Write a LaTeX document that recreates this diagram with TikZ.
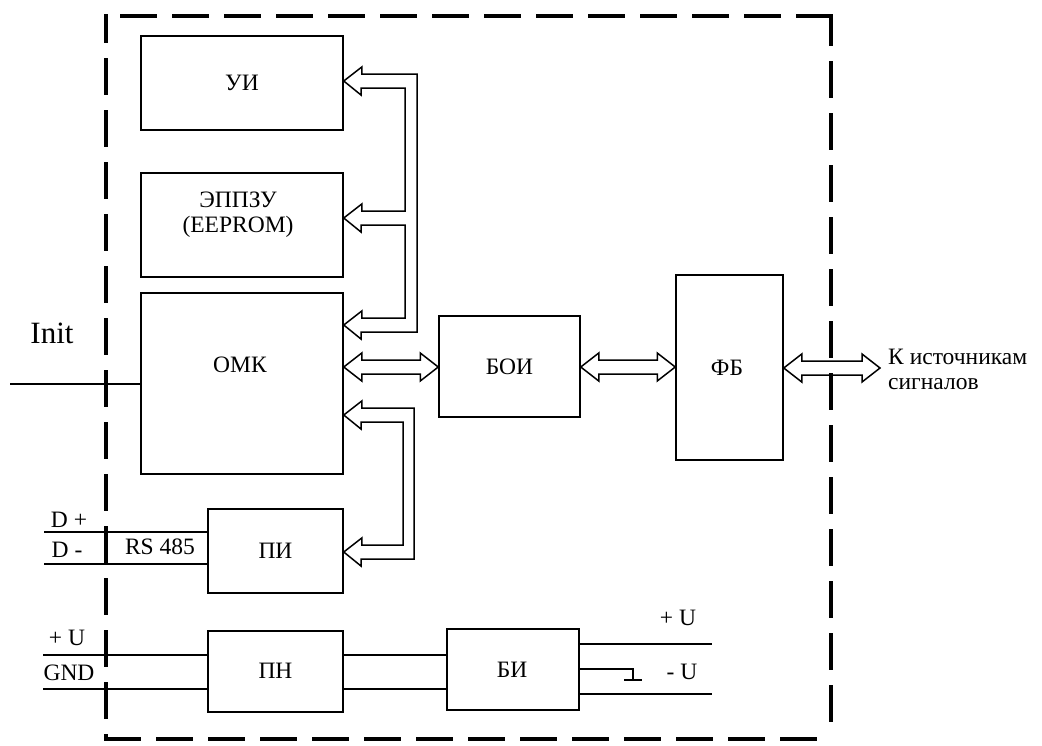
\documentclass[tikz,border=0pt]{standalone}
\usepackage{fontspec}
\setmainfont{Liberation Serif}
\usetikzlibrary{calc}
\tikzset{
  box/.style={draw, line width=1.5pt, inner sep=0pt},
  lbl/.style={inner sep=0pt, font=\fontsize{23.5}{25}\selectfont},
  wire/.style={line width=1.5pt},
  bus/.style={line width=1.5pt, line join=miter},
  frame/.style={line width=4pt, line cap=rect, dash pattern=on 33pt off 19pt}
}
\newcommand\hbus[2]{\draw[bus] (#1) -- ++(18,-14) -- ++(0,7) -- ($(#2)+(-18,-7)$) -- ++(0,-7) -- (#2) -- ++(-18,14) -- ++(0,-7) -- ($(#1)+(18,7)$) -- ++(0,7) -- cycle;}
\begin{document}
\begin{tikzpicture}[x=1pt,y=-1pt]
\useasboundingbox (0,0) rectangle (1042,745);
% frame
\coordinate (ftl) at (106,16);
\coordinate (ftr) at (831,16);
\coordinate (fbl) at (106,739);
\coordinate (fbr) at (831,739);
\draw[frame, dash phase=8pt] (ftl) -- (fbl);
\draw[frame] (ftr) -- (ftl);
\draw[frame, dash phase=5pt] (ftr) -- (fbr);
\draw[frame] (fbl) -- (fbr);
% boxes
\node[box, minimum width=202pt, minimum height=94pt] (ui) at (242,83) {};
\node[lbl] (uit) at (242,83) {УИ};
\node[box, minimum width=202pt, minimum height=104pt] (eep) at (242,225) {};
\node[lbl, align=center] (eept) at (238,214.5) {ЭППЗУ\\(EEPROM)};
\node[box, minimum width=202pt, minimum height=181pt] (omk) at (242,383.5) {};
\node[lbl] (omkt) at (240,365) {ОМК};
\node[box, minimum width=141pt, minimum height=101pt] (boi) at (509.5,366.5) {};
\node[lbl] (boit) at (509.5,367) {БОИ};
\node[box, minimum width=107pt, minimum height=185pt] (fb) at (729.5,367.5) {};
\node[lbl] (fbt) at (727,368) {ФБ};
\node[box, minimum width=135pt, minimum height=84pt] (pi) at (275.5,551) {};
\node[lbl] (pit) at (275.5,551) {ПИ};
\node[box, minimum width=135pt, minimum height=81pt] (pn) at (275.5,671.5) {};
\node[lbl] (pnt) at (275.5,671) {ПН};
\node[box, minimum width=132pt, minimum height=81pt] (bi) at (513,669.5) {};
\node[lbl] (bit) at (512,670) {БИ};
% labels
\node[lbl, font=\fontsize{31}{34}\selectfont] (init) at (52,333) {Init};
\node[lbl] (dp) at (69,520) {D +};
\node[lbl] (dm) at (67,550) {D -};
\node[lbl] (rs) at (160,547) {RS 485};
\node[lbl] (pu) at (67,638) {+ U};
\node[lbl] (gnd) at (69,673) {GND};
\node[lbl] (opu) at (678,618) {+ U};
\node[lbl] (omu) at (682,672) {- U};
\node[lbl, align=left, anchor=west] (src) at (888,369) {К источникам\\сигналов};
% wires
\coordinate (initL) at (10,384);
\draw[wire] (initL) -- (omk.west |- initL);
\coordinate (dpL) at (44,532);
\coordinate (dmL) at (44,564);
\draw[wire] (dpL) -- (pi.west |- dpL);
\draw[wire] (dmL) -- (pi.west |- dmL);
\coordinate (puL) at (43,655);
\coordinate (gndL) at (43,689);
\draw[wire] (puL) -- (pn.west |- puL);
\draw[wire] (gndL) -- (pn.west |- gndL);
\draw[wire] (pn.east |- puL) -- (bi.west |- puL);
\draw[wire] (pn.east |- gndL) -- (bi.west |- gndL);
\coordinate (oa) at (712,644);
\coordinate (ob) at (712,694);
\coordinate (gnode) at (633,680);
\draw[wire] (bi.east |- oa) -- (oa);
\draw[wire] (bi.east |- ob) -- (ob);
\draw[wire] (bi.east |- 0,669) -- (gnode |- 0,669) -- (gnode);
\draw[wire] ($(gnode)+(-9,0)$) -- ($(gnode)+(9,0)$);
% buses
\coordinate (t1) at (ui.east |- 0,81);
\coordinate (t2) at (eep.east |- 0,218);
\coordinate (t3) at (omk.east |- 0,325);
\coordinate (t4) at (omk.east |- 0,415);
\coordinate (t5) at (pi.east |- 0,552);
\draw[bus] (t1) -- ++(18,-14) -- ++(0,7) -- (417,74) -- (417,332) -- (361,332) -- ++(0,7) -- (t3) -- ++(18,-14) -- ++(0,7) -- (405,318) -- (405,225) -- (361,225) -- ++(0,7) -- (t2) -- ++(18,-14) -- ++(0,7) -- (405,211) -- (405,88) -- (361,88) -- ++(0,7) -- cycle;
\draw[bus] (t4) -- ++(18,-14) -- ++(0,7) -- (414,408) -- (414,559) -- (361,559) -- ++(0,7) -- (t5) -- ++(18,-14) -- ++(0,7) -- (403,545) -- (403,422) -- (361,422) -- ++(0,7) -- cycle;
\coordinate (h1) at (omk.east |- 0,367);
\coordinate (h2) at (boi.west |- 0,367);
\coordinate (h3) at (boi.east |- 0,367);
\coordinate (h4) at (fb.west |- 0,367);
\coordinate (h5) at (fb.east |- 0,368);
\coordinate (h6) at (880,368);
\hbus{h1}{h2}
\hbus{h3}{h4}
\hbus{h5}{h6}
\end{tikzpicture}
\end{document}
